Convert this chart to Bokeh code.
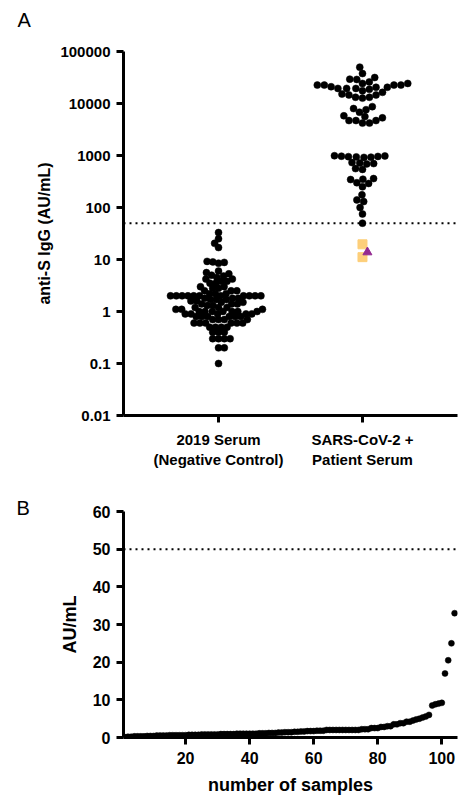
import numpy as np
from bokeh.plotting import figure
from bokeh.layouts import column
from bokeh.models import FixedTicker, Span, Range1d, CustomJSTickFormatter, Title
from bokeh.embed import file_html
from bokeh.resources import INLINE

# ---------------- data ----------------
categories = ["2019 Serum\n(Negative Control)", "SARS-CoV-2 +\nPatient Serum"]

negative_control = (
    [0.1] + [0.2] * 2 + [0.3] * 4 + [0.4] * 3 + [0.5] * 4 + [0.6] * 6 + [0.7] * 4
    + [0.8] * 6 + [0.9] * 5 + [1.0] * 7 + [1.1] * 3 + [1.2] * 3 + [1.3] * 2
    + [1.4] * 3 + [1.5] * 2 + [1.6] * 2 + [1.7] * 3 + [1.8] * 3 + [2.0] * 11
    + [2.2] * 3 + [2.5] * 3 + [2.8] * 2 + [3.0] * 2 + [3.5] * 2 + [3.8] * 2
    + [4.2] * 2
    + [4.5, 4.8, 5.0, 5.3, 5.6, 6.0, 8.5, 8.8, 9.0, 9.2, 17, 20.5, 25, 33]
)

positive_black = [
    50000, 37700, 31600, 29400, 29000,
    22600, 20500, 20500, 21000, 24300, 19500, 19500, 22600, 19500, 18700,
    22600, 26000, 24300, 22600,
    14600, 14600, 12700, 13200, 13200, 15200, 16400, 17600,
    8700, 8000, 7600, 6800,
    5800, 5300, 4200, 4700, 4700, 4200, 4700, 5600,
    980, 960, 950, 940, 930, 920, 970, 990,
    720, 700, 690, 730, 560, 540, 360, 350, 345, 300, 290, 250,
    175, 140, 130, 100, 75, 50,
]
positive_square = [19.6, 11.1]
positive_triangle = [13.8]

cutoff = 50
a_y_ticks = [0.01, 0.1, 1, 10, 100, 1000, 10000, 100000]
b_x_ticks = [20, 40, 60, 80, 100]
b_y_ticks = [0, 10, 20, 30, 40, 50, 60]

FONT = "Liberation Sans"

# ---------------- layout constants ----------------
W = 459
A_H, B_H = 470, 328
A_LEFT, A_RIGHT, A_TOP, A_BOTTOM = 123, 2, 51, 51
B_LEFT, B_RIGHT, B_TOP, B_BOTTOM = 120, 0, 41, 61
A_XR = (0.34, 2.66)
A_YR = (0.01, 100000)
B_XR = (0.6, 104.9)
B_YR = (0, 60)


def swarm_offsets(values, spacing, px_per_decade):
    ys = np.log10(np.asarray(values, float)) * px_per_decade
    order = np.argsort(ys, kind="stable")
    xs = np.zeros(len(ys))
    placed = []
    flip = 1
    for i in order:
        y = ys[i]
        intervals = []
        for px, py in placed:
            dy = abs(y - py)
            if dy < spacing:
                half = np.sqrt(spacing ** 2 - dy ** 2)
                intervals.append((px - half, px + half))
        cands = [0.0] + [a for a, b in intervals] + [b for a, b in intervals]
        valid = [c for c in cands
                 if all(not (a + 1e-7 < c < b - 1e-7) for a, b in intervals)]
        m = min(abs(c) for c in valid)
        ties = sorted(set(round(c, 6) for c in valid if abs(abs(c) - m) < 1e-6))
        if len(ties) > 1:
            c = ties[-1] if flip > 0 else ties[0]
            flip = -flip
        else:
            c = ties[0]
        xs[i] = c
        placed.append((c, y))
    return xs


def style(p, tick_size, label_size, letter, letter_offset, letter_standoff):
    for ax in (p.xaxis[0], p.yaxis[0]):
        ax.axis_line_width = 3
        ax.axis_line_color = "black"
        ax.major_tick_line_width = 3
        ax.major_tick_line_color = "black"
        ax.major_tick_out = 7
        ax.major_tick_in = 0
        ax.minor_tick_line_color = None
        ax.major_label_text_font = FONT
        ax.major_label_text_font_style = "bold"
        ax.major_label_text_font_size = tick_size
        ax.major_label_text_color = "black"
        ax.axis_label_text_font = FONT
        ax.axis_label_text_font_style = "bold"
        ax.axis_label_text_font_size = label_size
        ax.axis_label_text_color = "black"
    p.xgrid.visible = False
    p.ygrid.visible = False
    p.outline_line_color = None
    p.background_fill_color = "white"
    p.border_fill_color = "white"
    p.title.text = letter
    p.title.align = "left"
    p.title.offset = letter_offset
    p.title.standoff = letter_standoff
    p.title.text_font = FONT
    p.title.text_font_style = "normal"
    p.title.text_font_size = "20px"
    p.title.text_color = "black"


# ---------------- panel A ----------------
pA = figure(width=W, height=A_H, output_backend="svg", toolbar_location=None,
            y_axis_type="log", x_range=Range1d(*A_XR), y_range=Range1d(*A_YR),
            min_border_left=A_LEFT, min_border_right=A_RIGHT,
            min_border_top=A_TOP, min_border_bottom=A_BOTTOM)
style(pA, "15px", "16px", "A", -106, 0)
# empty spacer between the panel letter and the plotting area
pA.add_layout(Title(text=" ", text_font_size="1px", standoff=18), "above")

frame_w = W - A_LEFT - A_RIGHT
frame_h = A_H - A_TOP - A_BOTTOM
px_per_unit = frame_w / (A_XR[1] - A_XR[0])
px_per_decade = frame_h / (np.log10(A_YR[1]) - np.log10(A_YR[0]))

neg_off = swarm_offsets(negative_control, 5.8, px_per_decade)
pos_all = positive_black + positive_square + positive_triangle
pos_off = swarm_offsets(pos_all, 7.0, px_per_decade)
nb = len(positive_black)
ns = len(positive_square)

pA.scatter(1 + neg_off / px_per_unit, negative_control, size=7,
           fill_color="black", line_color="black", line_width=0.5)
pA.scatter(2 + pos_off[:nb] / px_per_unit, positive_black, size=7,
           fill_color="black", line_color="black", line_width=0.5)
pA.scatter(2 + pos_off[nb:nb + ns] / px_per_unit, positive_square, marker="square",
           size=9, fill_color="#FDCF7A", line_color="#FDCF7A")
pA.scatter(2 + pos_off[nb + ns:] / px_per_unit, positive_triangle, marker="triangle",
           size=9, fill_color="#942A91", line_color="#942A91")

pA.add_layout(Span(location=cutoff, dimension="width", line_color="black",
                   line_dash="2 4", line_width=2))

pA.xaxis.ticker = FixedTicker(ticks=[1, 2])
pA.xaxis.major_label_overrides = {1: categories[0], 2: categories[1]}
pA.xaxis.major_label_standoff = 8
pA.yaxis.ticker = FixedTicker(ticks=a_y_ticks)
pA.yaxis.formatter = CustomJSTickFormatter(code="return tick.toString()")
pA.yaxis.major_label_standoff = 6
pA.yaxis.axis_label = "anti-S IgG (AU/mL)"
pA.yaxis.axis_label_standoff = 4

# ---------------- panel B ----------------
idx = np.arange(1, len(negative_control) + 1)
sorted_vals = np.sort(np.asarray(negative_control, float))

pB = figure(width=W, height=B_H, output_backend="svg", toolbar_location=None,
            x_range=Range1d(*B_XR), y_range=Range1d(*B_YR),
            min_border_left=B_LEFT, min_border_right=B_RIGHT,
            min_border_top=B_TOP, min_border_bottom=B_BOTTOM)
style(pB, "16px", "18px", "B", -107, -14)
pB.scatter(idx, sorted_vals, size=6, fill_color="black", line_color="black",
           line_width=0.5)
pB.add_layout(Span(location=cutoff, dimension="width", line_color="black",
                   line_dash="2 4", line_width=2))
pB.xaxis.ticker = FixedTicker(ticks=b_x_ticks)
pB.yaxis.ticker = FixedTicker(ticks=b_y_ticks)
pB.xaxis.axis_label = "number of samples"
pB.yaxis.axis_label = "AU/mL"
pB.xaxis.major_label_standoff = 7
pB.xaxis.axis_label_standoff = 8
pB.yaxis.major_label_standoff = 6
pB.yaxis.axis_label_standoff = 10

layout = column(pA, pB, spacing=0)
open("out.html", "w").write(file_html(layout, INLINE))
